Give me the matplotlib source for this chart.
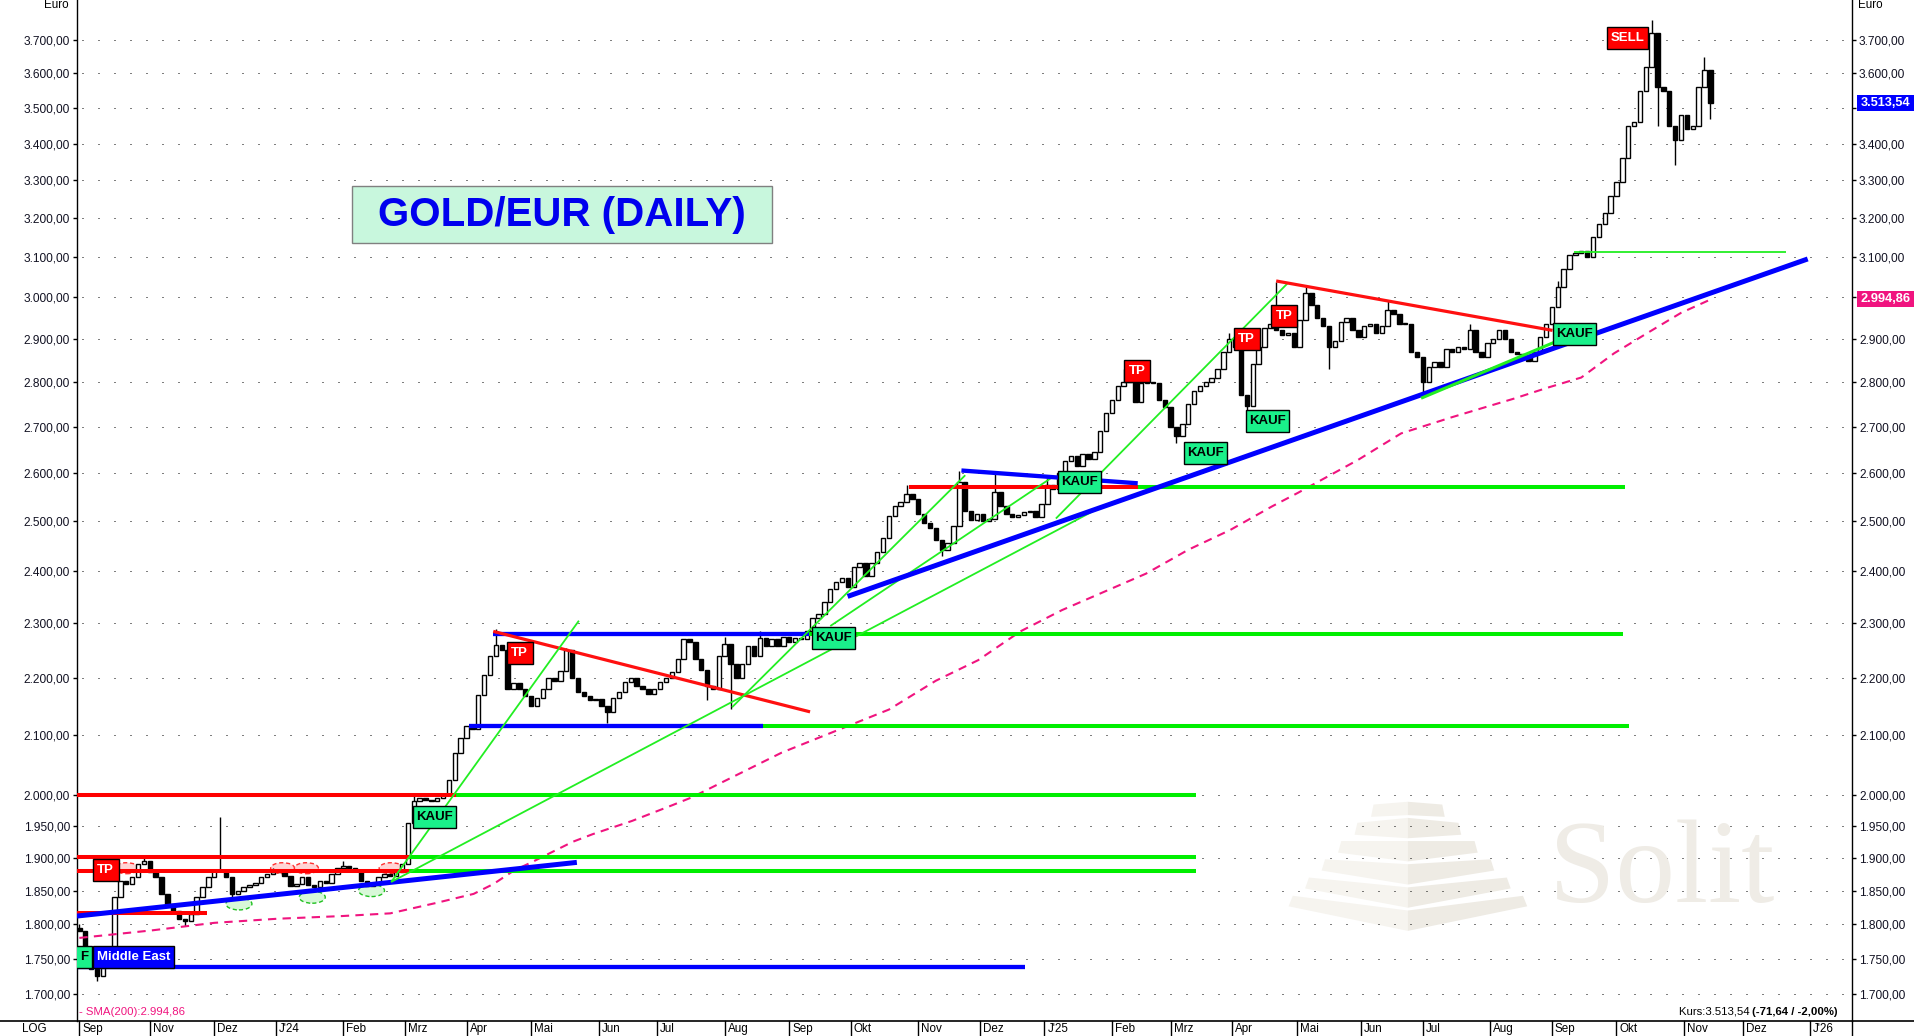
import numpy as np
import pandas as pd
import matplotlib
matplotlib.use("Agg")
import matplotlib.pyplot as plt
from matplotlib.patches import Rectangle, Ellipse, Polygon
from matplotlib.transforms import ScaledTranslation, blended_transform_factory
import matplotlib.ticker as mticker

# ---------------- data ----------------
START = "2023-09-28"          # first trading day on the chart
BAR_DAYS = 2                   # trading days per candle
first_open = 1795.0
closes = [
    1790, 1760, 1735, 1725, 1740, 1760, 1840, 1865, 1860, 1870,
    1890, 1895, 1878, 1870, 1845, 1830, 1820, 1808, 1805, 1815,
    1840, 1855, 1870, 1880, 1880, 1870, 1845, 1850, 1855, 1858,
    1862, 1870, 1875, 1878, 1878, 1872, 1857, 1860, 1870, 1858,
    1855, 1865, 1862, 1875, 1885, 1888, 1885, 1880, 1865, 1857,
    1862, 1870, 1875, 1872, 1878, 1890, 1955, 1990, 1995, 1992,
    1990, 1995, 2000, 2025, 2070, 2095, 2115, 2110, 2170, 2205,
    2240, 2260, 2250, 2180, 2190, 2180, 2168, 2150, 2165, 2180,
    2200, 2195, 2212, 2250, 2200, 2175, 2168, 2160, 2162, 2150,
    2140, 2165, 2175, 2192, 2200, 2185, 2180, 2172, 2180, 2192,
    2200, 2210, 2235, 2270, 2265, 2235, 2215, 2185, 2180, 2240,
    2262, 2225, 2200, 2225, 2258, 2240, 2272, 2258, 2270, 2258,
    2275, 2265, 2272, 2270, 2285, 2310, 2318, 2340, 2365, 2378,
    2386, 2370, 2408, 2415, 2390, 2415, 2438, 2465, 2510, 2530,
    2540, 2555, 2545, 2515, 2495, 2485, 2462, 2442, 2455, 2490,
    2580, 2520, 2502, 2515, 2500, 2505, 2560, 2530, 2515, 2508,
    2512, 2518, 2520, 2508, 2535, 2575, 2565, 2600, 2625, 2635,
    2615, 2640, 2630, 2645, 2690, 2730, 2760, 2790, 2800, 2800,
    2755, 2797, 2800, 2798, 2760, 2744, 2700, 2680, 2705, 2750,
    2780, 2790, 2800, 2810, 2830, 2870, 2900, 2880, 2770, 2745,
    2840, 2880, 2925, 2935, 2920, 2910, 2915, 2880, 2945, 3010,
    2980, 2950, 2930, 2880, 2895, 2940, 2950, 2920, 2905, 2930,
    2935, 2915, 2930, 2970, 2960, 2935, 2935, 2870, 2858, 2800,
    2835, 2845, 2835, 2875, 2870, 2880, 2875, 2920, 2870, 2858,
    2890, 2900, 2920, 2900, 2870, 2865, 2860, 2848, 2870, 2905,
    2935, 2975, 3025, 3070, 3105, 3110, 3115, 3100, 3150, 3185,
    3212, 3257, 3295, 3360, 3450, 3460, 3550, 3620, 3720, 3560,
    3550, 3450, 3410, 3480, 3440, 3450, 3560, 3610, 3513.54,
]
# notable wicks (candle number -> price)
wick_high = {0: 1800, 11: 1905, 24: 1965, 33: 1885, 45: 1895, 57: 2000, 71: 2290,
             83: 2255, 110: 2275, 116: 2285, 141: 2575, 150: 2605, 156: 2600,
             165: 2590, 178: 2830, 182: 2820, 196: 2915, 204: 3038, 209: 3030,
             223: 2990, 237: 2935, 252: 3040, 268: 3760, 277: 3650}
wick_low = {3: 1718, 18: 1798, 26: 1838, 90: 2120, 107: 2160, 111: 2145, 147: 2430,
            187: 2665, 199: 2715, 213: 2830, 229: 2775, 269: 3450, 272: 3340, 278: 3470}

# SMA(200) trace (trading-day index, value)
sma_t = [0, 24.8, 46, 67.4, 89.6, 106, 121.2, 134.4, 141.2, 148, 155, 161.6, 168.2, 175,
         188.4, 202, 208.8, 239.4, 276, 292, 306.4, 320.8, 335, 349.4, 363.6, 378, 392.4,
         406.6, 415.4, 436, 450.6, 467.6, 477.8, 489, 500.6, 512, 523.2, 534.6, 546, 556.2]
sma_v = [1780, 1791, 1802, 1808, 1812, 1816, 1831, 1845, 1860, 1880, 1895, 1910, 1925, 1937,
         1958, 1983, 1996, 2070, 2144, 2195, 2232, 2285, 2325, 2360, 2395, 2442, 2482,
         2530, 2558, 2628, 2685, 2720, 2740, 2762, 2787, 2810, 2866, 2914, 2962, 2994.86]

y_ticks = [1700, 1750, 1800, 1850, 1900, 1950, 2000, 2100, 2200, 2300, 2400, 2500,
           2600, 2700, 2800, 2900, 3000, 3100, 3200, 3300, 3400, 3500, 3600, 3700]

month_dates = ["2023-09-28", "2023-11-01", "2023-12-01", "2024-01-01", "2024-02-01",
               "2024-03-01", "2024-04-01", "2024-05-01", "2024-06-01", "2024-07-01",
               "2024-08-01", "2024-09-01", "2024-10-01", "2024-11-01", "2024-12-01",
               "2025-01-01", "2025-02-01", "2025-03-01", "2025-04-01", "2025-05-01",
               "2025-06-01", "2025-07-01", "2025-08-01", "2025-09-01", "2025-10-01",
               "2025-11-01", "2025-12-01", "2026-01-01"]
month_labels = ["Sep", "Nov", "Dez", "J'24", "Feb", "Mrz", "Apr", "Mai", "Jun", "Jul",
                "Aug", "Sep", "Okt", "Nov", "Dez", "J'25", "Feb", "Mrz", "Apr", "Mai",
                "Jun", "Jul", "Aug", "Sep", "Okt", "Nov", "Dez", "J'26"]

# horizontal levels (price, from, to [trading-day index], colour)
lvl_price = [2000, 2000, 1902, 1902, 1880, 1880, 1816, 1738, 2280, 2280, 2115, 2115, 2570, 2570, 3113]
lvl_t0 = [-0.8, 128.5, -0.8, 112.3, -0.8, 112.3, -0.8, -0.8, 141, 248.9, 133, 232.9, 282.7, 360.8, 509.6]
lvl_t1 = [128.5, 380.5, 112.3, 380.5, 112.3, 380.5, 43.4, 322.3, 248.9, 526.2, 232.9, 528.2, 360.8, 526.8, 581.9]
lvl_col = ["red", "green", "red", "green", "red", "green", "red", "blue", "blue", "green",
           "blue", "green", "red", "green", "green_thin"]

# trend lines
tr_t0 = [-0.8, 141.1, 106.3, 106.3, 222.5, 256.0, 261.9, 300.7, 332.9, 408, 457.4]
tr_p0 = [1812, 2285, 1863, 1863, 2148, 2295, 2351, 2605, 2505, 3040, 2763]
tr_t1 = [169.6, 249.1, 170.3, 348.7, 302, 331.5, 589.2, 360.8, 412, 502.2, 505.6]
tr_p1 = [1893, 2140, 2305, 2530, 2595, 2590, 3095, 2578, 3035, 2920, 2900]
tr_col = ["blue_thick", "red_mid", "green_thin", "green_thin", "green_thin", "green_thin",
          "blue_thick", "blue", "green_thin", "red_mid", "green_mid"]

# signal labels
sig_text = ["TP", "TP", "TP", "TP", "TP", "SELL", "KAUF", "KAUF", "KAUF", "KAUF", "KAUF",
            "KAUF", "KAUF", "Middle East"]
sig_t = [9.0, 150.1, 360.6, 397.9, 410.8, 527.9, 121.1, 257.1, 340.8, 383.8, 404.9,
         509.7, -3.0, 18.4]
sig_p = [1882, 2246, 2826, 2899, 2955, 3705, 1964, 2273, 2581, 2642, 2713, 2911, 1753, 1753]

red_ell_t = [16.1, 69.3, 77.4, 106.3]
red_ell_p = [1884, 1884, 1884, 1884]
grn_ell_t = [54.4, 79.4, 99.6]
grn_ell_p = [1830, 1840, 1850]

last_price = 3513.54
sma_last = 2994.86
title = "GOLD/EUR (DAILY)"

# ---------------- styling ----------------
W, H = 1915, 1036
AX_L, AX_R, AX_T, AX_B = 77, 1852, 0, 1021
COL = {"red": ("#ff0000", 2.9), "green": ("#00ee00", 2.9), "blue": ("#0000ff", 3.1),
       "green_thin": ("#22ee22", 1.3), "green_mid": ("#22ee22", 2.2),
       "blue_thick": ("#0000ff", 3.6), "red_mid": ("#ff1010", 2.3)}
PINK = "#f0147f"
SANS = ["Liberation Sans", "DejaVu Sans"]
NARROW = ["Liberation Sans Narrow", "Liberation Sans", "DejaVu Sans"]

plt.rcParams["font.family"] = SANS

fig = plt.figure(figsize=(W / 100, H / 100), dpi=100)
fig.patch.set_facecolor("white")
ax = fig.add_axes([AX_L / W, (H - AX_B) / H, (AX_R - AX_L) / W, (AX_B - AX_T) / H])
ax.set_facecolor("white")

def fig_xy(px, py):
    return px / W, 1 - py / H

# x coordinates = trading days since START
days = pd.bdate_range(START, periods=len(closes) * BAR_DAYS)[::BAR_DAYS]
tx = np.array([np.busday_count(START, d.date()) for d in days], dtype=float)

ax.set_yscale("log")
ax.set_ylim(1663.5, 3822)
ax.set_xlim(-0.8, 604.3)

# dotted grid
for yv in y_ticks:
    ax.axhline(yv, color="#000000", lw=0.72, ls=(11, (1, 15)), zorder=0.6)

# watermark (Solit)
def zp(zx, zy):
    return fig_xy(1250 + zx / 2.85, 780 + zy / 2.85)
for i in range(6):
    hw_t = 98 + 46 * i
    hw_b = 105 + 47 * i
    yte = 70 + 52 * i
    ytc = 62 if i == 0 else 108 + 66 * (i - 1)
    ybe = 105 + 51 * i
    ybc = 100 + 66 * i
    left = [zp(450 - hw_t, yte), zp(450, ytc), zp(450, ybc), zp(450 - hw_b, ybe)]
    right = [zp(450, ytc), zp(450 + hw_t, yte), zp(450 + hw_b, ybe), zp(450, ybc)]
    ax.add_patch(Polygon(left, closed=True, transform=fig.transFigure, facecolor="#f6f4ef",
                         edgecolor="none", zorder=0.1, clip_on=False))
    ax.add_patch(Polygon(right, closed=True, transform=fig.transFigure, facecolor="#eeebe4",
                         edgecolor="none", zorder=0.1, clip_on=False))
sx, sy = fig_xy(1549, 902)
fig.text(sx, sy, "Solit", fontsize=86, family=["Liberation Serif", "DejaVu Serif"],
         color="#efece6", ha="left", va="baseline", zorder=0.1)

# candles
opens = [first_open] + list(closes[:-1])
for k, (t, o, c) in enumerate(zip(tx, opens, closes)):
    hi = max(wick_high.get(k, max(o, c)), max(o, c))
    lo = min(wick_low.get(k, min(o, c)), min(o, c))
    ax.vlines(t, lo, hi, color="black", lw=1.0, zorder=2)
    up = c >= o
    h = c - o if abs(c - o) > 1 else 1.5
    ax.bar(t, h, bottom=o, width=1.5, facecolor="white" if up else "black",
           edgecolor="black", lw=1.0, zorder=2.1)

# SMA
ax.plot(sma_t, sma_v, color=PINK, lw=1.5, ls=(0, (4, 3)), zorder=2.5)

# dashed ellipses
def px_trans(t, p):
    return fig.dpi_scale_trans + ScaledTranslation(t, p, ax.transData)
for t, p in zip(red_ell_t, red_ell_p):
    ax.add_patch(Ellipse((0, 0), 0.24, 0.11, transform=px_trans(t, p), facecolor="#ffd5d5",
                         edgecolor="#ff3030", lw=1, ls=(0, (3, 2)), zorder=1.5))
for t, p in zip(grn_ell_t, grn_ell_p):
    ax.add_patch(Ellipse((0, 0), 0.26, 0.12, transform=px_trans(t, p), facecolor="#d8f8d8",
                         edgecolor="#20c020", lw=1, ls=(0, (3, 2)), zorder=1.5))

# levels & trend lines
for p, t0, t1, ck in zip(lvl_price, lvl_t0, lvl_t1, lvl_col):
    col, lw = COL[ck]
    ax.plot([t0, t1], [p, p], color=col, lw=lw, solid_capstyle="butt", zorder=3)
for t0, p0, t1, p1, ck in zip(tr_t0, tr_p0, tr_t1, tr_p1, tr_col):
    col, lw = COL[ck]
    ax.plot([t0, t1], [p0, p1], color=col, lw=lw, solid_capstyle="butt", zorder=3)

# signal boxes
BOX = {"TP": ("#ff0000", "white", 26), "SELL": ("#ff0000", "white", 41),
       "KAUF": ("#1af08a", "black", 43), "Middle East": ("#0000ff", "white", 81)}
for s, t, p in zip(sig_text, sig_t, sig_p):
    fc, tc, wpx = BOX[s]
    hpx = 22
    ax.add_patch(Rectangle((-wpx / 200, -hpx / 200), wpx / 100, hpx / 100,
                           transform=px_trans(t, p), facecolor=fc, edgecolor="black",
                           lw=1, zorder=4))
    if t < 0:
        # box is cut by the left edge of the plot: only its last letter shows
        ax.text((wpx / 2 - 4) / 100, 0, s[-1], transform=px_trans(t, p), ha="right",
                va="center", color=tc, fontsize=9.5, weight="bold", family=NARROW,
                zorder=4.1, clip_on=True)
    else:
        ax.text(t, p, s, ha="center", va="center", color=tc, fontsize=9.5, weight="bold",
                family=NARROW, zorder=4.1, clip_on=True)

# title box
tx0, ty0 = (352 - AX_L) / (AX_R - AX_L), 1 - 243 / AX_B
ax.add_patch(Rectangle((tx0, ty0), 420 / (AX_R - AX_L), 57 / AX_B, transform=ax.transAxes,
                       facecolor="#c8f7dd", edgecolor="#808080", lw=1, zorder=4))
ax.text((562 - AX_L) / (AX_R - AX_L), 1 - 215 / AX_B, title, transform=ax.transAxes,
        ha="center", va="center", fontsize=29, weight="bold", color="#0000ee", zorder=4.1)

# axes / ticks
for side in ["top", "bottom"]:
    ax.spines[side].set_visible(False)
for side in ["left", "right"]:
    ax.spines[side].set_linewidth(1)
ax.yaxis.set_major_locator(mticker.FixedLocator(y_ticks))
ax.yaxis.set_minor_locator(mticker.NullLocator())
def de_fmt(v, pos=None):
    s = f"{v:,.2f}"
    return s.replace(",", "X").replace(".", ",").replace("X", ".")
ax.yaxis.set_major_formatter(mticker.FuncFormatter(de_fmt))
ax.tick_params(axis="y", which="major", direction="out", length=3, width=1,
               labelsize=8.6, left=True, right=True, labelleft=True, labelright=True,
               pad=2, labelcolor="#111122")
ax.set_xticks([])

# value boxes on the right (they cover the right-hand labels beneath them)
bt = blended_transform_factory(ax.transAxes, ax.transData)
for val, col in [(last_price, "#0000ff"), (sma_last, PINK)]:
    tr = fig.dpi_scale_trans + ScaledTranslation(1.0, val, bt)
    ax.add_patch(Rectangle((0.05, -0.08), 0.57, 0.16, transform=tr, facecolor=col,
                           edgecolor="none", zorder=5, clip_on=False))
    ax.text(0.335, 0.0, de_fmt(val), transform=tr, ha="center", va="center", color="white",
            fontsize=9.2, weight="bold", zorder=5.1, clip_on=False)
covered = [3500, 3000]
for tk, yv in zip(ax.yaxis.get_major_ticks(), y_ticks):
    if yv in covered:
        tk.label2.set_visible(False)

# bottom strip: axis line, month separators, labels
fig.add_artist(plt.Line2D([0, 1], [(H - AX_B) / H] * 2, color="black", lw=1.2,
                          transform=fig.transFigure))
fig.add_artist(plt.Line2D([AX_R / W] * 2, [0, (H - AX_B) / H], color="black", lw=1,
                          transform=fig.transFigure))
xt = ax.get_xaxis_transform()
for d, lab in zip(month_dates, month_labels):
    t = float(np.busday_count(START, d))
    ax.plot([t, t], [-15 / AX_B, 0], transform=xt, color="black", lw=1, clip_on=False)
    ax.text(t + 1.0, -8 / AX_B, lab, transform=xt, ha="left", va="center",
            fontsize=8.4, clip_on=False)
fig.text(22 / W, 7 / H, "LOG", ha="left", va="center", fontsize=8.4)

# Euro labels
fig.text(69 / W, 1 - 5 / H, "Euro", ha="right", va="center", fontsize=8.4)
fig.text(1858 / W, 1 - 5 / H, "Euro", ha="left", va="center", fontsize=8.4)

# bottom info texts
ax.text(2 / (AX_R - AX_L), 9 / AX_B, "- SMA(200):" + de_fmt(sma_last), transform=ax.transAxes,
        ha="left", va="center", color=PINK, fontsize=8.2, zorder=5)
kb = ax.text((1838 - AX_L) / (AX_R - AX_L), 9 / AX_B, "(-71,64 / -2,00%)",
             transform=ax.transAxes, ha="right", va="center", fontsize=8.2,
             weight="bold", zorder=5)
ax.annotate("Kurs:" + de_fmt(last_price) + " ", xy=(0, 0), xycoords=kb, ha="right",
            va="bottom", fontsize=8.2, zorder=5)

fig.savefig("out.png", dpi=100, facecolor="white")
